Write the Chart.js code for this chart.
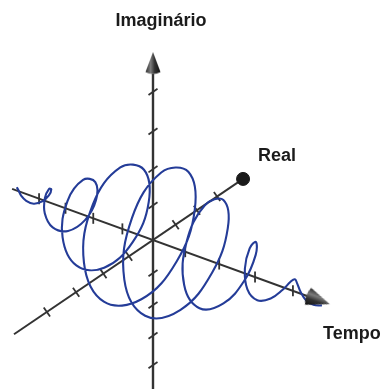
<!DOCTYPE html>
<html>
<head>
<meta charset="utf-8">
<script src="https://cdn.jsdelivr.net/npm/chart.js@4.4.1/dist/chart.umd.min.js"></script>
<style>
  html, body { margin: 0; padding: 0; background: #ffffff; overflow: hidden; }
  #wrap { position: relative; width: 381px; height: 389px; }
</style>
</head>
<body>
<div id="wrap"><canvas id="chart"></canvas></div>
<script>
// Wave packet samples (one every eighth of a turn): time, real part, imaginary part
const helixTime = [-4.87, -4.71, -4.55, -4.39, -4.23, -4.07, -3.91, -3.75, -3.59, -3.43,
  -3.27, -3.11, -2.95, -2.79, -2.63, -2.47, -2.31, -2.15, -1.99, -1.83,
  -1.67, -1.51, -1.35, -1.19, -1.03, -0.87, -0.71, -0.55, -0.39, -0.23,
  -0.07, 0.09, 0.25, 0.41, 0.57, 0.73, 0.89, 1.05, 1.21, 1.37,
  1.53, 1.69, 1.85, 2.01, 2.17, 2.33, 2.49, 2.65, 2.81, 2.97,
  3.13, 3.29, 3.45, 3.61, 3.77, 3.93, 4.09, 4.26, 4.42, 4.58, 4.74];
const helixReal = [0, -0.09, -0.16, -0.13, 0, 0.19, 0.31, 0.26, 0, -0.34,
  -0.55, -0.44, 0, 0.55, 0.87, 0.68, 0, -0.82, -1.25, -0.95,
  0, 1.08, 1.62, 1.20, 0, -1.30, -1.89, -1.37, 0, 1.41,
  2.00, 1.41, 0, -1.38, -1.91, -1.31, 0, 1.21, 1.64, 1.10,
  0, -0.97, -1.27, -0.83, 0, 0.70, 0.89, 0.57, 0, -0.45,
  -0.56, -0.35, 0, 0.26, 0.32, 0.19, 0, -0.14, -0.17, -0.10, 0];
const helixImag = [0.11, 0.09, 0, -0.13, -0.23, -0.19, 0, 0.26, 0.42, 0.34,
  0, -0.44, -0.70, -0.55, 0, 0.68, 1.06, 0.82, 0, -0.95,
  -1.44, -1.08, 0, 1.20, 1.77, 1.30, 0, -1.37, -1.97, -1.41,
  0, 1.41, 1.98, 1.38, 0, -1.31, -1.79, -1.21, 0, 1.10,
  1.46, 0.97, 0, -0.83, -1.08, -0.70, 0, 0.57, 0.72, 0.45,
  0, -0.35, -0.43, -0.26, 0, 0.19, 0.23, 0.14, 0, -0.10, -0.11];

// Axis extents (start, end of the shaft) and arrow tips
const timeRange = [-5.07, 4.6];
const realRange = [-5.05, 4.38];
const imagRange = [-5.0, 4.45];
const timeTip = 4.95;
const imagTip = 4.965;

// Tick marks along each axis
const timeTicks = [-4, -3, -2, -1, 1, 2, 3, 4];
const realTicks = [-4, -3, -2, -1, 1, 2, 3];
const imagTicks = [-4, -3, -2, -1, 1, 2, 3, 4];

const axisNames = { time: 'Tempo', real: 'Real', imag: 'Imaginário' };

// Perspective projection of (time, real, imag) onto the drawing plane
function project(t, r, i) {
  const s = 1 / (1 - 0.0256 * t + 0.0304 * r - 0.0211 * i);
  return { x: s * (31.4 * t + 23.3 * r), y: s * (-11.4 * t + 15.8 * r + 33.9 * i) };
}

// Shaded cone used as an arrow head
function makeCone(w, h) {
  const c = document.createElement('canvas');
  c.width = w; c.height = h;
  const g = c.getContext('2d');
  const grad = g.createLinearGradient(0, 0, w, 0);
  grad.addColorStop(0, '#262626');
  grad.addColorStop(0.35, '#7c7c7c');
  grad.addColorStop(0.6, '#333333');
  grad.addColorStop(1, '#0e0e0e');
  g.fillStyle = grad;
  g.beginPath();
  g.moveTo(w / 2, 0.5);
  g.lineTo(w - 0.5, h - 3.5);
  g.quadraticCurveTo(w / 2, h + 0.5, 0.5, h - 3.5);
  g.closePath();
  g.fill();
  return c;
}
const imagCone = makeCone(16, 24);
const timeCone = makeCone(19, 27);

const helixPoints = helixTime.map((t, k) => project(t, helixReal[k], helixImag[k]));

const axisColor = '#333333';
const lineSet = (pts, width) => ({
  data: pts, showLine: true, borderColor: axisColor, borderWidth: width,
  pointRadius: 0, tension: 0, order: 2
});
const tickSet = (pts, rotation) => ({
  data: pts, showLine: false, pointStyle: 'line', pointRadius: 5.5,
  pointRotation: rotation, borderColor: axisColor, pointBorderWidth: 1.8, order: 2
});

const timeDir = project(1, 0, 0);
const timeAngle = Math.atan2(-timeDir.y, timeDir.x) * 180 / Math.PI;

const datasets = [
  // helix
  {
    data: helixPoints, showLine: true, borderColor: '#243c98', borderWidth: 2.1,
    pointRadius: 0, tension: 0.4, order: 1
  },
  // axes
  lineSet([project(timeRange[0], 0, 0), project(timeRange[1], 0, 0)], 2),
  lineSet([project(0, realRange[0], 0), project(0, realRange[1], 0)], 2),
  lineSet([project(0, 0, imagRange[0]), project(0, 0, imagRange[1])], 2.4),
  // ticks
  tickSet(timeTicks.map(t => project(t, 0, 0)), 90),
  tickSet(realTicks.map(r => project(0, r, 0)), 55),
  tickSet(imagTicks.map(i => project(0, 0, i)), -35),
  // arrow heads
  {
    data: [project(0, 0, 4.69)], showLine: false,
    pointStyle: imagCone, pointRadius: 12, pointRotation: 0, order: 0
  },
  {
    data: [project(4.62, 0, 0)], showLine: false,
    pointStyle: timeCone, pointRadius: 13, pointRotation: 90 + timeAngle, order: 0
  },
  {
    data: [project(0, realRange[1], 0)], showLine: false,
    pointStyle: 'circle', pointRadius: 6.5, backgroundColor: '#1a1a1a',
    borderColor: '#1a1a1a', pointBorderWidth: 1, order: 0
  }
];

// Axis names next to the arrow heads
const labelSpecs = [
  { text: axisNames.imag, at: project(0, 0, imagTip), dx: 8, dy: -26, align: 'center' },
  { text: axisNames.real, at: project(0, realRange[1], 0), dx: 15, dy: -18, align: 'left' },
  { text: axisNames.time, at: project(timeTip, 0, 0), dx: -8, dy: 34, align: 'left' }
];

const axisLabelPlugin = {
  id: 'axisLabels',
  afterDatasetsDraw(chart) {
    const { ctx, scales: { x, y } } = chart;
    ctx.save();
    ctx.font = 'bold 18px "Liberation Sans", Arial, sans-serif';
    ctx.fillStyle = '#1b1b1b';
    ctx.textBaseline = 'alphabetic';
    labelSpecs.forEach(l => {
      ctx.textAlign = l.align;
      ctx.fillText(l.text, x.getPixelForValue(l.at.x) + l.dx, y.getPixelForValue(l.at.y) + l.dy);
    });
    ctx.restore();
  }
};

new Chart(document.getElementById('chart'), {
  type: 'scatter',
  data: { datasets },
  options: {
    responsive: true,
    maintainAspectRatio: false,
    animation: false,
    events: [],
    layout: { padding: 0, autoPadding: false },
    plugins: { legend: { display: false }, tooltip: { enabled: false } },
    scales: {
      x: { type: 'linear', display: false, min: -153, max: 228 },
      y: { type: 'linear', display: false, min: -149, max: 240 }
    }
  },
  plugins: [axisLabelPlugin]
});
</script>
</body>
</html>
